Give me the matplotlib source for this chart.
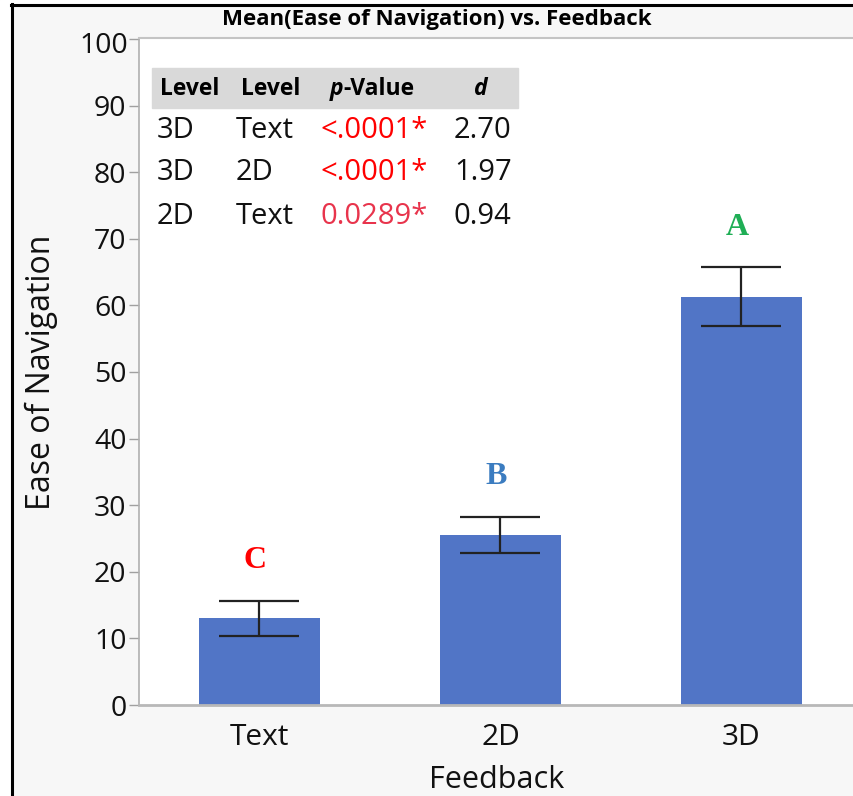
import matplotlib
matplotlib.use("Agg")
import matplotlib.pyplot as plt
from matplotlib.patches import Rectangle
from matplotlib.lines import Line2D

# ---- data ----
categories = ["Text", "2D", "3D"]
means = [13.0, 25.5, 61.3]
errors = [2.6, 2.75, 4.4]
letters = ["C", "B", "A"]
letter_colors = ["#ff0000", "#3b7cc0", "#1fae55"]

yticks = [0, 10, 20, 30, 40, 50, 60, 70, 80, 90, 100]

table_header = ["Level", "Level", "p-Value", "d"]
table_level1 = ["3D", "3D", "2D"]
table_level2 = ["Text", "2D", "Text"]
table_p = ["<.0001*", "<.0001*", "0.0289*"]
table_p_colors = ["#ff0000", "#ff0000", "#e8344c"]
table_d = ["2.70", "1.97", "0.94"]

title = "Mean(Ease of Navigation) vs. Feedback"
xlabel = "Feedback"
ylabel = "Ease of Navigation"

W, H = 854, 796
plt.rcParams['font.family'] = ['Open Sans', 'DejaVu Sans']
fig = plt.figure(figsize=(W / 100, H / 100), dpi=100)
fig.patch.set_facecolor("#f7f7f7")

def fx(px):
    return px / W

def fy(py):
    return 1 - py / H

fig.add_artist(Rectangle((0, 0), fx(11), 1, transform=fig.transFigure, color="white", zorder=0))
fig.add_artist(Rectangle((0, fy(4)), 1, 1 - fy(4), transform=fig.transFigure, color="white", zorder=0))
fig.add_artist(Line2D([fx(12.5), fx(12.5)], [0, fy(4)], transform=fig.transFigure, color="black", lw=2.2))
fig.add_artist(Line2D([fx(11), 1], [fy(5), fy(5)], transform=fig.transFigure, color="black", lw=2.2))
fig.add_artist(Line2D([fx(139), 1], [fy(37.5), fy(37.5)], transform=fig.transFigure, color="#c4c4c4", lw=1.5))

ax = fig.add_axes([fx(139), 1 - 705 / H, 1 - fx(139), (705 - 39) / H])
ax.set_facecolor("white")

x = list(range(len(categories)))
ax.bar(x, means, width=0.5, color="#5175c6", zorder=2)
ax.errorbar(x, means, yerr=errors, fmt="none", ecolor="#222222", elinewidth=1.6,
            capsize=29, capthick=1.6, zorder=3)

for xi, m, e, lt, c in zip(x, means, errors, letters, letter_colors):
    ax.annotate(lt, xy=(xi, m + e), xytext=(-3, 18.5), textcoords="offset points",
                ha="center", va="bottom", fontsize=23, fontweight="bold",
                family="Liberation Serif", color=c)

ax.set_xlim(-0.5, 2.467)
ax.set_ylim(0, 100)
ax.set_yticks(yticks)
# the top label is drawn separately, nudged just below its tick
ax.set_yticklabels([str(v) for v in yticks[:-1]] + [""])
ax.annotate(str(yticks[-1]), xy=(0, yticks[-1]), xycoords=("axes fraction", "data"),
            xytext=(-7.5, -5), textcoords="offset points", ha="right", va="center",
            fontsize=20.5, color="#111111", annotation_clip=False)
ax.set_xticks(x)
ax.set_xticklabels(categories)
ax.tick_params(axis="y", length=7, width=1, color="#a0a0a0", labelsize=20.5, pad=2, labelcolor="#111111")
ax.tick_params(axis="x", length=0, labelsize=21.5, pad=13, labelcolor="#111111")
for s in ["top", "right"]:
    ax.spines[s].set_visible(False)
ax.spines["left"].set_color("#b0b0b0")
ax.spines["bottom"].set_color("#b8b8b8")
ax.spines["left"].set_linewidth(1.2)
ax.spines["bottom"].set_linewidth(2)

ax.set_xlabel(xlabel, fontsize=22, labelpad=9, color="#111111")
ax.set_ylabel(ylabel, fontsize=23, labelpad=26, color="#111111")
fig.text(fx(437), fy(19), title, ha="center", va="center", fontsize=16, fontweight="bold")

# ---- table ----
def axx(px):
    return (px - 139) / 715

def axy(py):
    return (705 - py) / 666

ax.add_patch(Rectangle((axx(152), axy(108)), axx(518) - axx(152), axy(68) - axy(108),
                       transform=ax.transAxes, color="#d9d9d9", zorder=4, clip_on=False))
hy = axy(89)
hkw = dict(transform=ax.transAxes, va="center", fontsize=16.5, fontweight="bold", zorder=5)
ax.text(axx(160), hy, table_header[0], ha="left", **hkw)
ax.text(axx(241), hy, table_header[1], ha="left", **hkw)
tp = ax.text(axx(330), hy, table_header[2][0], ha="left", fontstyle="italic", **hkw)
ax.annotate(table_header[2][1:], xy=(1, 0), xycoords=tp, ha="left", va="bottom",
            fontsize=16.5, fontweight="bold", zorder=5)
ax.text(axx(481), hy, table_header[3], ha="center", fontstyle="italic", **hkw)

row_py = [130, 173, 217]
for py, l1, l2, p, pc, d in zip(row_py, table_level1, table_level2, table_p, table_p_colors, table_d):
    y = axy(py)
    kw = dict(transform=ax.transAxes, va="center", ha="left", fontsize=21, zorder=5)
    ax.text(axx(157), y, l1, color="#111111", **kw)
    ax.text(axx(236), y, l2, color="#111111", **kw)
    ax.text(axx(321), y, p, color=pc, **kw)
    ax.text(axx(454), y, d, color="#111111", **kw)

fig.savefig("out.png", dpi=100, facecolor=fig.get_facecolor())
